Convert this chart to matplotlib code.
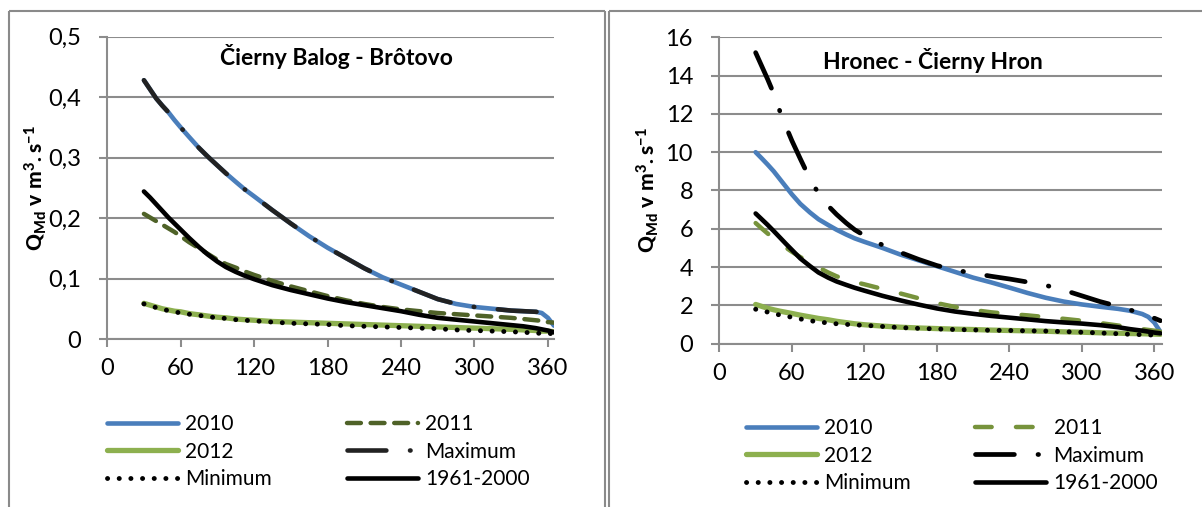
import matplotlib
matplotlib.use("Agg")
import matplotlib.pyplot as plt
from matplotlib.lines import Line2D

plt.rcParams["font.family"] = ["Lato", "DejaVu Sans"]
plt.rcParams["mathtext.fontset"] = "custom"
plt.rcParams["mathtext.rm"] = "Lato:black"
plt.rcParams["mathtext.bf"] = "Lato:black"
plt.rcParams["mathtext.it"] = "Lato:black"
plt.rcParams["lines.scale_dashes"] = False

# day of the year (duration axis)
days = [30, 35, 40, 45, 50, 55, 60, 67, 75, 82, 90, 97, 105, 112, 120, 135, 150, 165, 180,
        195, 210, 225, 240, 255, 270, 285, 300, 315, 330, 340, 350, 355, 360, 365]

# Čierny Balog - Brôtovo, discharge in m3/s
bal_2010 = [0.428, 0.413, 0.398, 0.386, 0.375, 0.362, 0.350, 0.334, 0.316, 0.302, 0.287, 0.274,
            0.260, 0.248, 0.236, 0.213, 0.191, 0.170, 0.151, 0.134, 0.117, 0.102, 0.090, 0.078,
            0.066, 0.058, 0.053, 0.050, 0.047, 0.046, 0.045, 0.043, 0.035, 0.022]
bal_2011 = [0.207, 0.201, 0.195, 0.189, 0.183, 0.177, 0.170, 0.160, 0.150, 0.141, 0.131, 0.124,
            0.118, 0.112, 0.106, 0.096, 0.087, 0.079, 0.071, 0.064, 0.058, 0.053, 0.049, 0.046,
            0.043, 0.041, 0.039, 0.037, 0.035, 0.033, 0.031, 0.030, 0.028, 0.027]
bal_2012 = [0.059, 0.056, 0.053, 0.050, 0.048, 0.046, 0.045, 0.042, 0.040, 0.038, 0.036, 0.035,
            0.033, 0.032, 0.031, 0.029, 0.028, 0.027, 0.026, 0.025, 0.024, 0.023, 0.022, 0.021,
            0.020, 0.019, 0.018, 0.017, 0.016, 0.015, 0.014, 0.013, 0.013, 0.012]
bal_max = [0.428, 0.413, 0.398, 0.386, 0.375, 0.362, 0.350, 0.334, 0.316, 0.302, 0.287, 0.274,
           0.260, 0.248, 0.236, 0.213, 0.191, 0.170, 0.151, 0.134, 0.117, 0.102, 0.090, 0.078,
           0.066, 0.058, 0.053, 0.050, 0.047, 0.046, 0.045, 0.044, 0.043, 0.038]
bal_min = [0.058, 0.055, 0.052, 0.049, 0.047, 0.045, 0.043, 0.041, 0.039, 0.037, 0.035, 0.034,
           0.032, 0.031, 0.030, 0.028, 0.026, 0.025, 0.024, 0.022, 0.021, 0.020, 0.019, 0.018,
           0.017, 0.015, 0.014, 0.013, 0.012, 0.011, 0.010, 0.009, 0.009, 0.009]
bal_ref = [0.244, 0.234, 0.223, 0.212, 0.201, 0.191, 0.181, 0.167, 0.152, 0.140, 0.128, 0.119,
           0.111, 0.105, 0.099, 0.089, 0.081, 0.074, 0.067, 0.061, 0.056, 0.051, 0.046, 0.040,
           0.035, 0.032, 0.029, 0.026, 0.023, 0.021, 0.018, 0.016, 0.014, 0.011]

# Hronec - Čierny Hron, discharge in m3/s
hro_2010 = [10.0, 9.68, 9.35, 9.0, 8.6, 8.2, 7.8, 7.3, 6.85, 6.5, 6.2, 5.95, 5.7, 5.5, 5.32,
            5.0, 4.65, 4.35, 4.05, 3.75, 3.45, 3.2, 2.93, 2.65, 2.4, 2.2, 2.05, 1.93, 1.82, 1.72,
            1.55, 1.4, 1.1, 0.62]
hro_2011 = [6.3, 6.02, 5.75, 5.5, 5.24, 5.02, 4.8, 4.52, 4.25, 3.98, 3.72, 3.52, 3.35, 3.22,
            3.1, 2.86, 2.62, 2.37, 2.12, 1.92, 1.76, 1.64, 1.55, 1.48, 1.39, 1.3, 1.2, 1.08,
            0.95, 0.85, 0.76, 0.72, 0.68, 0.63]
hro_2012 = [2.05, 1.95, 1.85, 1.77, 1.7, 1.64, 1.58, 1.49, 1.4, 1.32, 1.25, 1.17, 1.1, 1.04,
            0.99, 0.92, 0.86, 0.82, 0.79, 0.76, 0.74, 0.71, 0.69, 0.67, 0.65, 0.62, 0.6, 0.57,
            0.55, 0.53, 0.52, 0.51, 0.5, 0.49]
hro_max = [15.2, 14.5, 13.8, 13.05, 12.15, 11.35, 10.6, 9.65, 8.6, 7.85, 7.2, 6.75, 6.3, 5.95,
           5.65, 5.15, 4.76, 4.4, 4.08, 3.85, 3.68, 3.52, 3.38, 3.22, 3.05, 2.8, 2.5, 2.2, 1.95,
           1.76, 1.58, 1.45, 1.33, 1.2]
hro_min = [1.8, 1.72, 1.65, 1.57, 1.5, 1.44, 1.38, 1.29, 1.2, 1.14, 1.08, 1.04, 1.01, 0.98,
           0.96, 0.9, 0.84, 0.8, 0.77, 0.74, 0.72, 0.7, 0.69, 0.67, 0.66, 0.63, 0.6, 0.56, 0.52,
           0.49, 0.47, 0.46, 0.45, 0.44]
hro_ref = [6.8, 6.5, 6.2, 5.88, 5.55, 5.22, 4.9, 4.45, 4.05, 3.72, 3.45, 3.25, 3.07, 2.92,
           2.77, 2.5, 2.26, 2.04, 1.84, 1.68, 1.56, 1.45, 1.36, 1.27, 1.18, 1.11, 1.05, 0.97,
           0.86, 0.76, 0.68, 0.63, 0.58, 0.54]

x_ticks = [0, 60, 120, 180, 240, 300, 360]
bal_yticks = [0, 0.1, 0.2, 0.3, 0.4, 0.5]
bal_ylabels = ["0", "0,1", "0,2", "0,3", "0,4", "0,5"]
hro_yticks = [0, 2, 4, 6, 8, 10, 12, 14, 16]
hro_ylabels = ["0", "2", "4", "6", "8", "10", "12", "14", "16"]

series_names = ["2010", "2011", "2012", "Maximum", "Minimum", "1961-2000"]

BLUE = "#4a7ebb"
LGREEN = "#8db04f"
GRID = "#8c8c8c"

W, H = 1202, 507
fig = plt.figure(figsize=(W / 100, H / 100), dpi=100)


def px(x0, y0, x1, y1):
    return [x0 / W, 1 - y1 / H, (x1 - x0) / W, (y1 - y0) / H]


def style_axes(ax, xmax, yticks, ylabels):
    ax.set_xlim(0, xmax)
    ax.set_ylim(yticks[0], yticks[-1])
    ax.set_xticks(x_ticks)
    ax.set_yticks(yticks)
    ax.set_yticklabels(ylabels)
    for s in ("top", "right"):
        ax.spines[s].set_visible(False)
    for s in ("left", "bottom"):
        ax.spines[s].set_color(GRID)
        ax.spines[s].set_linewidth(1.5)
    ax.grid(axis="y", color=GRID, lw=1.5)
    ax.set_axisbelow(True)
    ax.tick_params(axis="both", direction="out", length=6, width=1.5, color=GRID,
                   labelsize=17, labelcolor="black")
    ax.tick_params(axis="x", pad=8)
    ax.tick_params(axis="y", pad=13)


def draw_panel(ax, values, styles):
    handles = {}
    for name, vals, st in zip(series_names, values, styles):
        (ln,) = ax.plot(days, vals, label=name, solid_capstyle="round",
                        dash_capstyle="round", solid_joinstyle="round", **st)
        handles[name] = ln
    return handles


# panel frames
frame = dict(color="#8a8a8a", lw=1.5, transform=fig.transFigure, solid_capstyle="butt")
fig.add_artist(Line2D([8.5 / W, 8.5 / W], [0, 1 - 11 / H], **frame))
fig.add_artist(Line2D([8.5 / W, 605 / W], [1 - 11 / H, 1 - 11 / H], **frame))
fig.add_artist(Line2D([605 / W, 605 / W], [0, 1 - 11 / H], **frame))
fig.add_artist(Line2D([609 / W, 609 / W], [0, 1 - 11 / H], **frame))
fig.add_artist(Line2D([609 / W, 1], [1 - 11 / H, 1 - 11 / H], **frame))

maxdash = (0, (28, 17, 0.4, 17))
dots = (0, (0.1, 8.3))
ylabel = r"$\mathbf{Q_{Md}\ v\ m^{3}.s^{-1}}$"

# ---- Čierny Balog - Brôtovo
ax1 = fig.add_axes(px(107.2, 36.7, 554.0, 339.0))
style_axes(ax1, 365, bal_yticks, bal_ylabels)
h1 = draw_panel(ax1, [bal_2010, bal_2011, bal_2012, bal_max, bal_min, bal_ref], [
    dict(color=BLUE, lw=3.3),
    dict(color="#4f6228", lw=3.2, linestyle=(0, (10, 7))),
    dict(color=LGREEN, lw=3.8),
    dict(color="#222222", lw=3.3, linestyle=maxdash),
    dict(color="black", lw=3.5, linestyle=dots),
    dict(color="black", lw=3.3),
])
ax1.text(0.512, 0.933, "Čierny Balog - Brôtovo", transform=ax1.transAxes,
         ha="center", va="center", fontsize=16.5, fontweight="bold")
ax1.set_ylabel(ylabel, fontsize=15)
ax1.yaxis.set_label_coords(-0.16, 0.5)
ax1.yaxis.label.set_verticalalignment("center")

# ---- Hronec - Čierny Hron
ax2 = fig.add_axes(px(719.4, 37.3, 1161.6, 343.7))
style_axes(ax2, 366, hro_yticks, hro_ylabels)
h2 = draw_panel(ax2, [hro_2010, hro_2011, hro_2012, hro_max, hro_min, hro_ref], [
    dict(color=BLUE, lw=3.3),
    dict(color="#77933c", lw=3.2, linestyle=(0, (12, 17.5))),
    dict(color=LGREEN, lw=3.8),
    dict(color="black", lw=3.4, linestyle=maxdash),
    dict(color="black", lw=3.5, linestyle=dots),
    dict(color="black", lw=3.3),
])
ax2.text(0.482, 0.923, "Hronec - Čierny Hron", transform=ax2.transAxes,
         ha="center", va="center", fontsize=16.5, fontweight="bold")
ax2.set_ylabel(ylabel, fontsize=15)
ax2.yaxis.set_label_coords(-0.1615, 0.5)
ax2.yaxis.label.set_verticalalignment("center")

order = ["2010", "2012", "Minimum", "2011", "Maximum", "1961-2000"]
for hd, anchor, colsp in ((h1, (107 / W, 1 - 414 / H), 3.6), (h2, (746 / W, 1 - 418 / H), 3.1)):
    fig.legend([hd[n] for n in order], order, loc="upper left", bbox_to_anchor=anchor,
               bbox_transform=fig.transFigure, ncol=2, frameon=False, fontsize=15,
               handlelength=3.4, handletextpad=0.35, columnspacing=colsp, labelspacing=0.36,
               borderpad=0, borderaxespad=0)

fig.savefig("out.png", dpi=100)
